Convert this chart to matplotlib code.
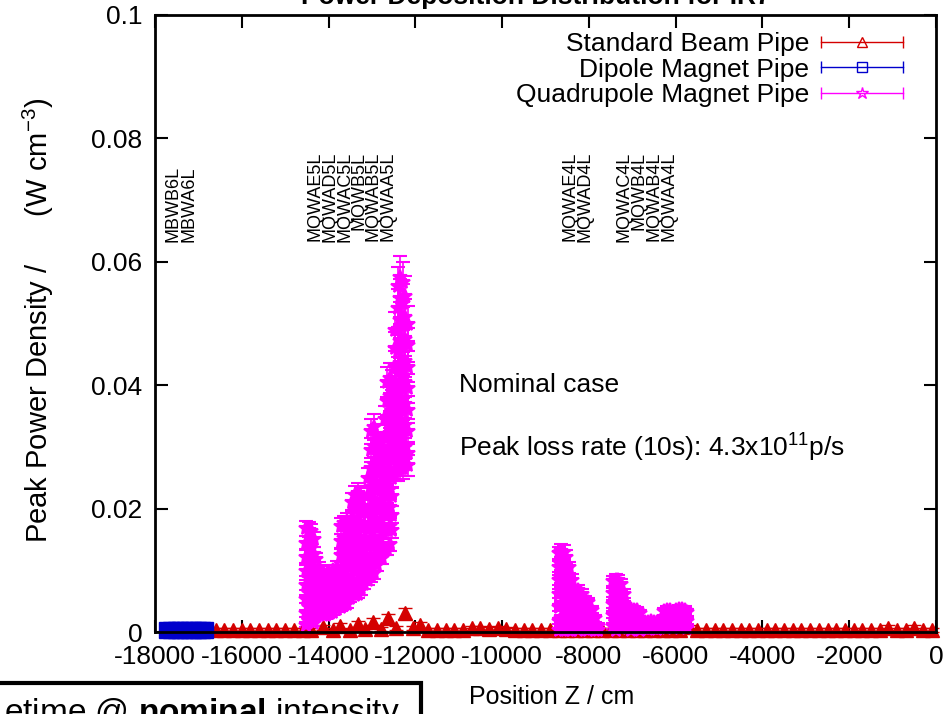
"""IR7 peak power density along Z, recreated as a static figure."""

import matplotlib

matplotlib.use("Agg")
import matplotlib.pyplot as plt
from matplotlib.legend_handler import HandlerLine2D, HandlerTuple
from matplotlib.lines import Line2D
from matplotlib.patches import Rectangle
from matplotlib.ticker import FuncFormatter

plt.rcParams["font.family"] = ["Liberation Sans", "DejaVu Sans"]
plt.rcParams["mathtext.fontset"] = "custom"
plt.rcParams["mathtext.rm"] = "Liberation Sans"
plt.rcParams["mathtext.it"] = "Liberation Sans:italic"
plt.rcParams["mathtext.bf"] = "Liberation Sans:bold"
plt.rcParams["axes.unicode_minus"] = False

# --- data (cm, W/cm^3) ---
beam_z = [-16600, -16400, -16200, -16000, -15800, -15600, -15400, -15200, -15000,
          -14800, -14600, -14400, -14120, -13900, -13730, -13500, -13315, -13150,
          -12970, -12800, -12625, -12450, -12230, -12050, -11885, -11700, -11500,
          -11300, -11100, -10900, -10700, -10500, -10300, -10100, -9900, -9700,
          -9500, -9300, -9100, -8900, -8700, -8500, -8300, -8100, -7900, -7700,
          -7500, -7300, -7100, -6900, -6700, -6500, -6300, -6100, -5900, -5700,
          -5500, -5300, -5100, -4900, -4700, -4500, -4300, -4100, -3900, -3700,
          -3500, -3300, -3100, -2900, -2700, -2500, -2300, -2100, -1900, -1700,
          -1500, -1300, -1100, -900, -700, -500, -300, -100]
beam_v = [0.0003, 0.0003, 0.0004, 0.0003, 0.0003, 0.0004, 0.0003, 0.0003, 0.0004,
          0.0003, 0.0003, 0.0004, 0.0008, 0.0004, 0.0010, 0.0004, 0.0013, 0.0005,
          0.0017, 0.0005, 0.0022, 0.0006, 0.0030, 0.0006, 0.0012, 0.0004, 0.0003,
          0.0003, 0.0004, 0.0004, 0.0006, 0.0006, 0.0005, 0.0006, 0.0005, 0.0004,
          0.0003, 0.0003, 0.0003, 0.0003, 0.0003, 0.0003, 0.0003, 0.0003, 0.0003,
          0.0003, 0.0003, 0.0003, 0.0003, 0.0003, 0.0003, 0.0003, 0.0003, 0.0003,
          0.0003, 0.0008, 0.0003, 0.0003, 0.0003, 0.0003, 0.0003, 0.0003, 0.0003,
          0.0003, 0.0003, 0.0003, 0.0003, 0.0003, 0.0003, 0.0003, 0.0003, 0.0003,
          0.0003, 0.0003, 0.0003, 0.0003, 0.0003, 0.0003, 0.0007, 0.0004, 0.0003,
          0.0007, 0.0004, 0.0003]

dipole_z = [-17720, -17620, -17520, -17420, -17320, -17220, -17120, -17020, -16920, -16840]
dipole_v = [0.00025, 0.00025, 0.00025, 0.00025, 0.00025, 0.00025, 0.00025, 0.00025, 0.00025, 0.00025]

# quadrupoles: z position -> values found at that z
quad_z = [
    # MQWA.E5L
    -14520, -14460, -14400, -14340, -14280,
    # MQWA.D5L
    -14210, -14130, -14050, -13970, -13890, -13810,
    # MQWA.C5L
    -13720, -13650, -13580, -13510, -13450,
    # MQWB.5L
    -13390, -13320, -13250, -13180,
    # MQWA.B5L
    -13100, -13030, -12960, -12890, -12820, -12770,
    # MQWA.A5L
    -12710, -12650, -12590, -12530, -12470, -12410, -12350, -12290, -12230, -12180,
    # MQWA.E4L
    -8700, -8640, -8580, -8520, -8460, -8400,
    # MQWA.D4L
    -8330, -8250, -8170, -8090, -8010, -7930, -7850, -7790,
    # MQWA.C4L
    -7440, -7380, -7320, -7260, -7200,
    # MQWB.4L
    -7100, -7030, -6960, -6890, -6830,
    # MQWA.B4L
    -6770, -6700, -6630, -6560, -6490, -6420, -6350,
    # MQWA.A4L
    -6280, -6210, -6140, -6070, -6000, -5930, -5860, -5790, -5740,
]
quad_v = [
    [0.0168, 0.0145, 0.0122, 0.0099, 0.0076, 0.0053, 0.003, 0.0012],
    [0.0166, 0.0133, 0.011, 0.0087, 0.0064, 0.0041, 0.0018],
    [0.0163, 0.014, 0.0117, 0.0094, 0.0071, 0.0048, 0.0025],
    [0.0150, 0.0127, 0.0104, 0.0081, 0.0058, 0.0035, 0.0015],
    [0.0118, 0.0095, 0.0072, 0.0049, 0.0028],
    [0.0105, 0.0086, 0.0067, 0.0048, 0.003],
    [0.0098, 0.0079, 0.006, 0.0041, 0.0028],
    [0.0092, 0.0073, 0.0054, 0.0035, 0.0027],
    [0.0094, 0.0075, 0.0056, 0.0037, 0.003],
    [0.0100, 0.0081, 0.0062, 0.0043, 0.0033],
    [0.0106, 0.0087, 0.0068, 0.0049, 0.0038],
    [0.0172, 0.0148, 0.0124, 0.0100, 0.0076, 0.0052, 0.004],
    [0.0176, 0.0152, 0.0128, 0.0104, 0.0080, 0.0056, 0.0043],
    [0.0180, 0.0156, 0.0132, 0.0108, 0.0084, 0.006, 0.0045],
    [0.0175, 0.0151, 0.0127, 0.0103, 0.0079, 0.0055],
    [0.0210, 0.0185, 0.016, 0.0135, 0.011, 0.0085, 0.0062],
    [0.0222, 0.0197, 0.0172, 0.0147, 0.0122, 0.0097, 0.0072, 0.006],
    [0.0226, 0.0201, 0.0176, 0.0151, 0.0126, 0.0101, 0.0076, 0.0062],
    [0.0218, 0.0193, 0.0168, 0.0143, 0.0118, 0.0093, 0.0068],
    [0.0200, 0.0175, 0.015, 0.0125, 0.010, 0.0078],
    [0.0250, 0.0222, 0.0194, 0.0166, 0.0138, 0.011, 0.0085],
    [0.0325, 0.0295, 0.0265, 0.0235, 0.0205, 0.0175, 0.0145, 0.0115, 0.009],
    [0.0332, 0.0302, 0.0272, 0.0242, 0.0212, 0.0182, 0.0152, 0.0122, 0.0095],
    [0.0318, 0.0288, 0.0258, 0.0228, 0.0198, 0.0168, 0.0138, 0.0108],
    [0.0300, 0.027, 0.024, 0.021, 0.018, 0.015, 0.012],
    [0.0290, 0.026, 0.023, 0.020, 0.017, 0.014, 0.012],
    [0.0345, 0.0315, 0.0285, 0.0255, 0.0225, 0.0195, 0.0165, 0.0135],
    [0.0405, 0.0375, 0.0345, 0.0315, 0.0285, 0.0255, 0.0225, 0.0195, 0.0165, 0.0135],
    [0.0412, 0.0382, 0.0352, 0.0322, 0.0292, 0.0262, 0.0232, 0.0202, 0.0172, 0.0142],
    [0.0400, 0.037, 0.034, 0.031, 0.028, 0.025, 0.022, 0.019, 0.0165],
    [0.0490, 0.046, 0.043, 0.040, 0.037, 0.034, 0.031, 0.028, 0.0262],
    [0.0560, 0.0525, 0.049, 0.0455, 0.042, 0.0385, 0.035, 0.0315, 0.028, 0.0262],
    [0.0576, 0.0541, 0.0506, 0.0471, 0.0436, 0.0401, 0.0366, 0.0331, 0.0296, 0.0265],
    [0.0568, 0.0533, 0.0498, 0.0463, 0.0428, 0.0393, 0.0358, 0.0323, 0.0288, 0.0265],
    [0.0545, 0.051, 0.0475, 0.044, 0.0405, 0.037, 0.0335, 0.030, 0.027],
    [0.0500, 0.0465, 0.043, 0.0395, 0.036, 0.0325, 0.029, 0.027],
    [0.0128, 0.0106, 0.0084, 0.0062, 0.004, 0.0018, 0.0003],
    [0.0132, 0.011, 0.0088, 0.0066, 0.0044, 0.0022, 0.0005],
    [0.0130, 0.0108, 0.0086, 0.0064, 0.0042, 0.002, 0.0003],
    [0.0122, 0.010, 0.0078, 0.0056, 0.0034, 0.0012],
    [0.0105, 0.0083, 0.0061, 0.0039, 0.0017, 0.0003],
    [0.0085, 0.0063, 0.0041, 0.0019, 0.0003],
    [0.0065, 0.0047, 0.0029, 0.0011],
    [0.0068, 0.005, 0.0032, 0.0014, 0.0003],
    [0.0062, 0.0044, 0.0026, 0.0008],
    [0.0052, 0.0036, 0.002, 0.0005],
    [0.0048, 0.0032, 0.0016, 0.0003],
    [0.0036, 0.0022, 0.0008],
    [0.0022, 0.001, 0.0003],
    [0.0010, 0.0003],
    [0.0082, 0.0064, 0.0046, 0.0028, 0.001],
    [0.0085, 0.0067, 0.0049, 0.0031, 0.0013, 0.0003],
    [0.0084, 0.0066, 0.0048, 0.003, 0.0012],
    [0.0078, 0.006, 0.0042, 0.0024, 0.0006],
    [0.0062, 0.0044, 0.0026, 0.0008],
    [0.0036, 0.0022, 0.0008],
    [0.0038, 0.0024, 0.001, 0.0003],
    [0.0036, 0.0022, 0.0008],
    [0.0035, 0.0021, 0.0007],
    [0.0030, 0.0016, 0.0004],
    [0.0018, 0.0007],
    [0.0017, 0.0006],
    [0.0016, 0.0005],
    [0.0018, 0.0007],
    [0.0017, 0.0006],
    [0.0016, 0.0005],
    [0.0018, 0.0007],
    [0.0034, 0.0021, 0.0008],
    [0.0036, 0.0023, 0.001],
    [0.0035, 0.0022, 0.0009],
    [0.0033, 0.002, 0.0007],
    [0.0036, 0.0023, 0.001],
    [0.0038, 0.0025, 0.0012],
    [0.0037, 0.0024, 0.0011],
    [0.0036, 0.0023, 0.001],
    [0.0032, 0.0018, 0.0006],
]

magnet_names = ["MBWB6L", "MBWA6L",
                "MQWAE5L", "MQWAD5L", "MQWAC5L", "MQWB5L", "MQWAB5L", "MQWAA5L",
                "MQWAE4L", "MQWAD4L", "MQWAC4L", "MQWB4L", "MQWAB4L", "MQWAA4L"]
magnet_z = [-17580, -17210,
            -14310, -13960, -13615, -13290, -12970, -12625,
            -8430, -8085, -7190, -6840, -6495, -6150]
magnet_top = [0.0755, 0.0755,
              0.0778, 0.0778, 0.0778, 0.0778, 0.0778, 0.0778,
              0.0778, 0.0778, 0.0778, 0.0778, 0.0778, 0.0778]

RED = "#d40000"
BLUE = "#0000cc"
MAGENTA = "#ff00ff"

# flatten quadrupole points
qz, qv = [], []
for z, vals in zip(quad_z, quad_v):
    for v in vals:
        qz.append(z)
        qv.append(v)
q_err = [0.05 * v + 0.0004 for v in qv]
beam_err = [0.25 * v + 0.0002 for v in beam_v]
dip_err = [0.00015 for v in dipole_v]

W, H = 952, 714
fig = plt.figure(figsize=(W / 100, H / 100), dpi=100)
ax = fig.add_axes([155 / W, 1 - 632 / H, (936 - 155) / W, (632 - 15) / H])


def eb(z, v, err, color, marker, ms, mfc, mew=1.0):
    c = ax.errorbar(z, v, yerr=err, fmt=marker, color=color, ecolor=color, ms=ms,
                    mfc=mfc, mec=color, mew=mew, elinewidth=1.2, capsize=5, capthick=1.2)
    for a in c.get_children():
        a.set_clip_on(False)
    return c


eb(beam_z, beam_v, beam_err, RED, "^", 10, RED)
eb(dipole_z, dipole_v, dip_err, BLUE, "s", 12, BLUE)
eb(qz, qv, q_err, MAGENTA, "*", 10, MAGENTA, mew=1.5)

for name, z, top in zip(magnet_names, magnet_z, magnet_top):
    ax.text(z, top, name, rotation=90, ha="center", va="top", fontsize=13)

ax.text(-11000, 0.0400, "Nominal case", fontsize=19, va="center")
ax.text(-11000, 0.0298, "Peak loss rate (10s): 4.3x10$^{11}$p/s", fontsize=19, va="center")

ax.set_xlim(-18000, 0)
ax.set_ylim(0, 0.1)
ax.set_xticks(range(-18000, 1, 2000))
ax.set_yticks([0, 0.02, 0.04, 0.06, 0.08, 0.1])
ax.yaxis.set_major_formatter(FuncFormatter(lambda v, p: f"{v:g}"))
ax.tick_params(direction="in", top=True, right=True, length=9, width=1.5,
               labelsize=19, pad=9)
for s in ax.spines.values():
    s.set_linewidth(2)

ax.set_xlabel("Position Z / cm", fontsize=18)
ax.xaxis.label.set_va("center")
ax.xaxis.set_label_coords((552 - 155) / 781, -(697 - 632) / 617)
ax.set_ylabel("Peak Power Density /      (W cm$^{-3}$)", fontsize=21)
ax.yaxis.label.set_va("center")
ax.yaxis.set_label_coords((38 - 155) / 781, 0.505)

# legend: gnuplot style, text on the left, error-bar sample on the right
labels = ["Standard Beam Pipe", "Dipole Magnet Pipe", "Quadrupole Magnet Pipe"]
styles = [(RED, "^", 7), (BLUE, "s", 7), (MAGENTA, "*", 9)]
handles, hmap = [], {}
for color, marker, ms in styles:
    bar = Line2D([], [], color=color, lw=1.0, marker="|", ms=9, mew=1.0)
    mk = Line2D([], [], ls="none", color=color, marker=marker, mfc="none", mec=color,
                ms=ms, mew=1.0)
    hmap[bar] = HandlerLine2D(numpoints=2)
    hmap[mk] = HandlerLine2D(numpoints=1)
    handles.append((bar, mk))
hmap[tuple] = HandlerTuple(ndivide=1)
ax.legend(handles, labels, handler_map=hmap, markerfirst=False, frameon=False,
          loc="upper right", bbox_to_anchor=((916 - 155) / 781, (632 - 27) / 617),
          borderaxespad=0, borderpad=0.2, fontsize=19, handlelength=3.7,
          handletextpad=0.15, labelspacing=0.05)

# cut-off slide title and the box at the bottom left
fig.text(536 / W, 1 - 4 / H, "Power Deposition Distribution for IR7", ha="center",
         va="baseline", fontsize=19, fontweight="bold")
fig.add_artist(Rectangle((-0.01, -0.05), (421 + 10) / W, (714 - 683) / H + 0.05,
                         transform=fig.transFigure, facecolor="white",
                         edgecolor="black", lw=3, clip_on=False))
fig.text(4 / W, 1 - 722 / H, "etime @ $\\mathbf{nominal}$ intensity", fontsize=24,
         va="baseline")

fig.savefig("out.png", dpi=100)
